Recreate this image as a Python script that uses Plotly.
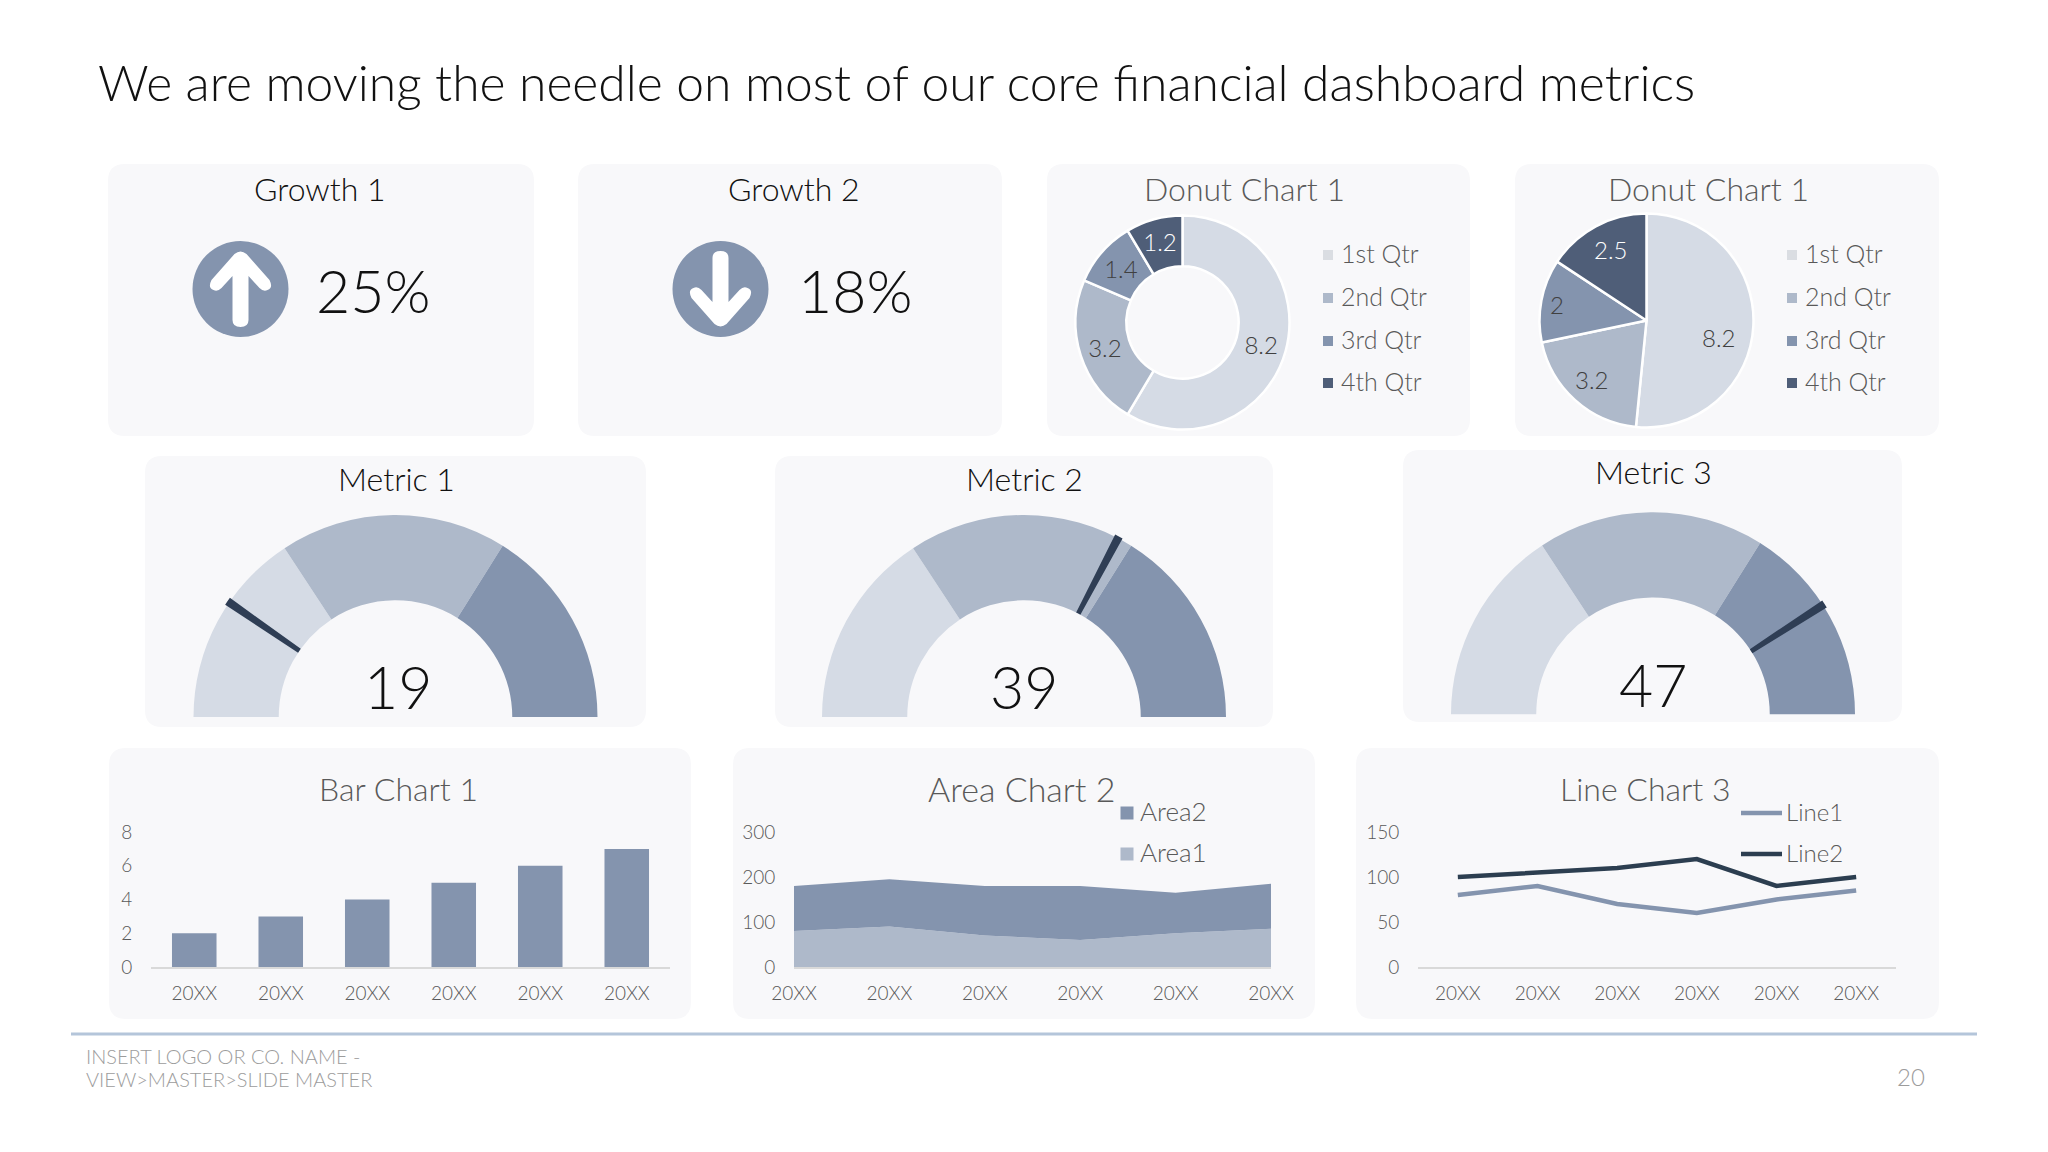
import plotly.graph_objects as go

# ---------- data ----------
TITLE = "We are moving the needle on most of our core financial dashboard metrics"
GROWTH_LABELS = ["Growth 1", "Growth 2"]
GROWTH_VALUES = ["25%", "18%"]
METRIC_LABELS = ["Metric 1", "Metric 2", "Metric 3"]
METRIC_VALUES = ["19", "39", "47"]
GAUGE_BANDS = [31.5, 36.3, 32.2]
NEEDLE_POS = [19.2, 65.4, 81.8]
NEEDLE_W = 1.3
QTRS = ["1st Qtr", "2nd Qtr", "3rd Qtr", "4th Qtr"]
DONUT_VALUES = [8.2, 3.2, 1.4, 1.2]
PIE_VALUES = [8.2, 3.2, 2, 2.5]
YEARS = ["20XX"] * 6
BAR_VALUES = [2, 3, 4, 5, 6, 7]
AREA1 = [80, 90, 70, 60, 75, 85]
AREA2 = [100, 105, 110, 120, 90, 100]
LINE1 = [80, 90, 70, 60, 75, 85]
LINE2 = [100, 105, 110, 120, 90, 100]
BAR_TICKS = [0, 2, 4, 6, 8]
AREA_TICKS = [0, 100, 200, 300]
LINE_TICKS = [0, 50, 100, 150]

# ---------- style ----------
W, H = 2048, 1152
FONT = "Lato"
PANEL = "#F8F8FA"
LIGHT, MID, DARK, NAVY = "#D5DBE5", "#AEB9CA", "#8494AE", "#4F5E78"
NEEDLE = "#2F3E55"
GREY_T = "#595959"
BLACK_T = "#111111"
FOOT_T = "#9C9C9C"
PIE_LABEL_XY = [(1718, 339), (1591, 381), (1557, 306.5), (1610, 251.5)]


def X(p):
    return p / W


def Y(p):
    return 1 - p / H


def P(x, y):
    return f"{X(x):.5f},{Y(y):.5f}"


shapes, annos = [], []


def panel(l, t, r, b, rad=17):
    d = (f"M{P(l+rad,t)} L{P(r-rad,t)} Q{P(r,t)} {P(r,t+rad)} L{P(r,b-rad)} Q{P(r,b)} {P(r-rad,b)} "
         f"L{P(l+rad,b)} Q{P(l,b)} {P(l,b-rad)} L{P(l,t+rad)} Q{P(l,t)} {P(l+rad,t)} Z")
    shapes.append(dict(type="path", path=d, xref="paper", yref="paper", fillcolor=PANEL,
                       line=dict(width=0), layer="below"))


def text(s, x, y, size, color=GREY_T, anchor="center"):
    annos.append(dict(text=s, x=X(x), y=Y(y - size * 0.08), xref="paper", yref="paper", showarrow=False,
                      xanchor=anchor, yanchor="middle", align=anchor,
                      font=dict(family=FONT, size=size, color=color, weight=300)))


def square(cx, cy, s, color):
    shapes.append(dict(type="rect", xref="paper", yref="paper", x0=X(cx - s / 2), x1=X(cx + s / 2),
                       y0=Y(cy + s / 2), y1=Y(cy - s / 2), fillcolor=color, line=dict(width=0)))


def hline(x0, x1, y, color, width):
    shapes.append(dict(type="line", xref="paper", yref="paper", x0=X(x0), x1=X(x1), y0=Y(y), y1=Y(y),
                       line=dict(color=color, width=width)))


def arrow(cx, cy, s):
    pts = lambda dx, dy: P(cx + dx, cy + s * dy)
    d = ("M" + pts(-6, -35) + " Q" + pts(0, -40) + " " + pts(6, -35) + " L" + pts(29, -9) + " Q" + pts(33, -1) + " " + pts(27, 1)
         + " Q" + pts(23, 3) + " " + pts(19, -1) + " L" + pts(8, -13) + " L" + pts(8, 31) + " Q" + pts(8, 38) + " " + pts(0, 38)
         + " Q" + pts(-8, 38) + " " + pts(-8, 31) + " L" + pts(-8, -13) + " L" + pts(-19, -1) + " Q" + pts(-23, 3) + " " + pts(-27, 1)
         + " Q" + pts(-33, -1) + " " + pts(-29, -9) + " Z")
    shapes.append(dict(type="circle", xref="paper", yref="paper", x0=X(cx - 48), x1=X(cx + 48),
                       y0=Y(cy + 48), y1=Y(cy - 48), fillcolor=DARK, line=dict(width=0)))
    shapes.append(dict(type="path", path=d, xref="paper", yref="paper", fillcolor="white", line=dict(width=0)))


def dom(cx, cy, r):
    return dict(x=[X(cx - r), X(cx + r)], y=[Y(cy + r), Y(cy - r)])


fig = go.Figure()

for box in [(108, 164, 534, 436), (578, 164, 1002, 436), (1047, 164, 1470, 436), (1515, 164, 1939, 436),
            (145, 456, 646, 727), (775, 456, 1273, 727), (1403, 450, 1902, 722),
            (109, 748, 691, 1019), (733, 748, 1315, 1019), (1356, 748, 1939, 1019)]:
    panel(*box)

text(TITLE, 96, 86, 49.8, BLACK_T, "left")
hline(71, 1977, 1034, "#B4C5DA", 3)
text("INSERT LOGO OR CO. NAME -", 83.5, 1058, 20, FOOT_T, "left")
text("VIEW&gt;MASTER&gt;SLIDE MASTER", 83.5, 1081, 20, FOOT_T, "left")
text("20", 1911, 1078, 24, FOOT_T)

for name, val, tx, nx, ax, s in zip(GROWTH_LABELS, GROWTH_VALUES, [320, 794], [372.5, 855], [240.5, 720.5], [1, -1]):
    text(name, tx, 191, 32, BLACK_T)
    text(val, nx, 295, 59, BLACK_T)
    arrow(ax, 289, s)

SLICE_COLORS = [LIGHT, MID, DARK, NAVY]
LABEL_COLORS = ["#404040", "#404040", "#404040", "#FFFFFF"]
for vals, cx, cy, r, hole, tx, lx in [(DONUT_VALUES, 1182.5, 322.5, 107, 0.525, 1244, 1328),
                                      (PIE_VALUES, 1646.5, 320.5, 107, 0, 1708, 1792)]:
    is_donut = hole > 0
    fig.add_trace(go.Pie(values=vals, labels=QTRS, sort=False, direction="clockwise", rotation=0, hole=hole,
                         domain=dom(cx, cy, r), marker=dict(colors=SLICE_COLORS, line=dict(color="white", width=2.5)),
                         texttemplate="%{value}" if is_donut else "", textinfo="value" if is_donut else "none",
                         textposition="inside" if is_donut else "none", insidetextorientation="horizontal",
                         textfont=dict(family=FONT, size=24, color=LABEL_COLORS, weight=300),
                         hoverinfo="skip", showlegend=False))
    text("Donut Chart 1", tx, 191, 32, GREY_T)
    for q, y, c in zip(QTRS, [255, 298, 341, 383], ["#DADDE2", MID, DARK, NAVY]):
        square(lx, y, 10, c)
        text(q, lx + 11, y, 25, GREY_T, "left")

for v, (lxp, lyp), c in zip(PIE_VALUES, PIE_LABEL_XY, LABEL_COLORS):
    text(str(v), lxp, lyp, 24, c)

for name, val, pos, cx, cy, ty, vy, nx in zip(METRIC_LABELS, METRIC_VALUES, NEEDLE_POS,
                                              [395.5, 1024, 1653], [717, 717, 714.3],
                                              [481, 481, 474.5], [691, 691, 689], [398, 1024, 1653]):
    fig.add_trace(go.Pie(values=GAUGE_BANDS + [100], sort=False, direction="clockwise", rotation=270, hole=0.578,
                         domain=dom(cx, cy, 202), textinfo="none", hoverinfo="skip", showlegend=False,
                         marker=dict(colors=[LIGHT, MID, DARK, "rgba(0,0,0,0)"], line=dict(width=0))))
    fig.add_trace(go.Pie(values=[pos - NEEDLE_W / 2, NEEDLE_W, 100 - pos - NEEDLE_W / 2, 100], sort=False,
                         direction="clockwise", rotation=270, hole=0.572, domain=dom(cx, cy, 204),
                         textinfo="none", hoverinfo="skip", showlegend=False,
                         marker=dict(colors=["rgba(0,0,0,0)", NEEDLE, "rgba(0,0,0,0)", "rgba(0,0,0,0)"], line=dict(width=0))))
    text(name, nx - 1.5 if nx < 500 else nx, ty, 32, BLACK_T)
    text(val, nx, vy, 59, BLACK_T)


def axes(n, l, r, xrange, yrange, yticks, ylen):
    s = "" if n == 1 else str(n)
    return {
        f"xaxis{s}": dict(domain=[X(l), X(r)], anchor=f"y{s}", range=xrange, tickmode="array", automargin=False,
                          tickvals=list(range(len(YEARS))), ticktext=YEARS, showline=True, linecolor="#D9D9D9",
                          linewidth=1.5, showgrid=False, zeroline=False, ticks="outside", ticklen=8,
                          tickcolor="rgba(0,0,0,0)", tickfont=dict(family=FONT, size=19, color=GREY_T, weight=300)),
        f"yaxis{s}": dict(domain=[Y(967), Y(832)], anchor=f"x{s}", range=yrange, tickmode="array", automargin=False,
                          tickvals=yticks, showline=False, showgrid=False, zeroline=False, ticks="outside",
                          ticklen=ylen, tickcolor="rgba(0,0,0,0)",
                          tickfont=dict(family=FONT, size=19, color=GREY_T, weight=300)),
    }


idx = list(range(len(YEARS)))
fig.add_trace(go.Bar(x=idx, y=BAR_VALUES, marker=dict(color=DARK, line=dict(width=0)), xaxis="x", yaxis="y",
                     hoverinfo="skip", showlegend=False))
fig.add_trace(go.Scatter(x=idx, y=AREA1, mode="none", stackgroup="a", fillcolor=MID, xaxis="x2", yaxis="y2",
                         hoverinfo="skip", showlegend=False))
fig.add_trace(go.Scatter(x=idx, y=AREA2, mode="none", stackgroup="a", fillcolor=DARK, xaxis="x2", yaxis="y2",
                         hoverinfo="skip", showlegend=False))
fig.add_trace(go.Scatter(x=idx, y=LINE1, mode="lines", line=dict(color=DARK, width=4.5), xaxis="x3", yaxis="y3",
                         hoverinfo="skip", showlegend=False))
fig.add_trace(go.Scatter(x=idx, y=LINE2, mode="lines", line=dict(color="#2C3E50", width=4.5), xaxis="x3", yaxis="y3",
                         hoverinfo="skip", showlegend=False))

text("Bar Chart 1", 398, 791, 32)
text("Area Chart 2", 1021, 791, 34)
text("Line Chart 3", 1645, 791, 32)

square(1127, 813, 13, DARK)
square(1127, 854, 13, MID)
text("Area2", 1138, 813, 26, GREY_T, "left")
text("Area1", 1138, 854, 26, GREY_T, "left")
hline(1741, 1782, 813, DARK, 4.5)
hline(1741, 1782, 854, "#2C3E50", 4.5)
text("Line1", 1784, 813, 24, GREY_T, "left")
text("Line2", 1784, 854, 24, GREY_T, "left")

layout = dict(width=W, height=H, margin=dict(l=0, r=0, t=0, b=0), paper_bgcolor="white", plot_bgcolor="rgba(0,0,0,0)",
              shapes=shapes, annotations=annos, bargap=0.485, showlegend=False,
              font=dict(family=FONT))
layout.update(axes(1, 151, 670, [-0.5, 5.5], [0, 8], BAR_TICKS, 14))
layout.update(axes(2, 794, 1271, [0, 5], [0, 300], AREA_TICKS, 14))
layout.update(axes(3, 1418, 1896, [-0.5, 5.5], [0, 150], LINE_TICKS, 14))
fig.update_layout(**layout)

fig.write_html("out.html", config=dict(displayModeBar=False, responsive=False),
               post_script="document.body.style.margin='0';")
